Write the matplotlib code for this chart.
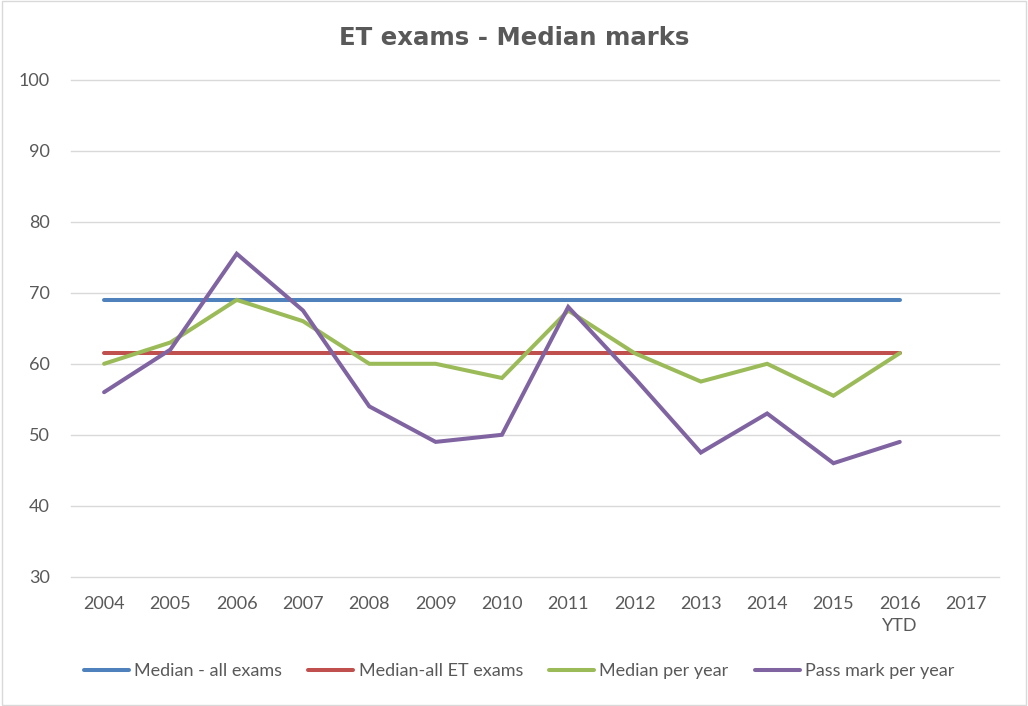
"""
ET exams - median marks line chart
"""

import matplotlib.pyplot as plt
from matplotlib.patches import Rectangle

# -------------------------------------------------------------------
# Data
# -------------------------------------------------------------------
years = ["2004", "2005", "2006", "2007", "2008", "2009", "2010",
         "2011", "2012", "2013", "2014", "2015", "2016\nYTD", "2017"]

median_all_exams = [69] * 13
median_all_et_exams = [61.5] * 13
median_per_year = [60, 63, 69, 66, 60, 60, 58, 67.5, 61.5, 57.5, 60, 55.5, 61.5]
pass_mark_per_year = [56, 62, 75.5, 67.5, 54, 49, 50, 68, 58, 47.5, 53, 46, 49]

series = [
    ("Median - all exams", median_all_exams, "#4F81BD"),
    ("Median-all ET exams", median_all_et_exams, "#C0504D"),
    ("Median per year", median_per_year, "#9BBB59"),
    ("Pass mark per year", pass_mark_per_year, "#8064A2"),
]

plt.rcParams["font.family"] = ["Lato", "DejaVu Sans"]

fig = plt.figure(figsize=(10.28, 7.06), dpi=100)
ax = fig.add_axes([0.069, 0.183, 0.903, 0.704])

# border round the whole chart area
fig.patches.append(Rectangle((0.002, 0.002), 0.996, 0.996, transform=fig.transFigure,
                             fill=False, edgecolor="#d9d9d9", linewidth=1))

x = list(range(len(years)))
for label, vals, color in series:
    ax.plot(x[:len(vals)], vals, color=color, linewidth=2.9, label=label,
            solid_capstyle="round", solid_joinstyle="miter")

ax.set_xlim(-0.5, len(years) - 0.5)
ax.set_ylim(30, 100)
ax.set_yticks(range(30, 101, 10))
ax.set_xticks(x)
ax.set_xticklabels(years, linespacing=1.45)
ax.tick_params(axis="both", length=0, labelsize=13, labelcolor="#595959")
ax.tick_params(axis="x", pad=14)
ax.tick_params(axis="y", pad=15)
ax.grid(axis="y", color="#d9d9d9", linewidth=1)
for gl in ax.get_ygridlines():
    gl.set_clip_on(False)
ax.set_axisbelow(True)
for s in ax.spines.values():
    s.set_visible(False)

fig.text(0.5, 0.946, "ET exams - Median marks", ha="center", va="center",
         fontsize=17.6, fontweight="bold", color="#595959", family="DejaVu Sans")

fig.legend(loc="center", bbox_to_anchor=(0.505, 0.049), ncol=4, frameon=False,
           fontsize=13, handlelength=2.5, columnspacing=1.45, handletextpad=0.28,
           labelcolor="#595959")

fig.savefig("out.png", dpi=100)
